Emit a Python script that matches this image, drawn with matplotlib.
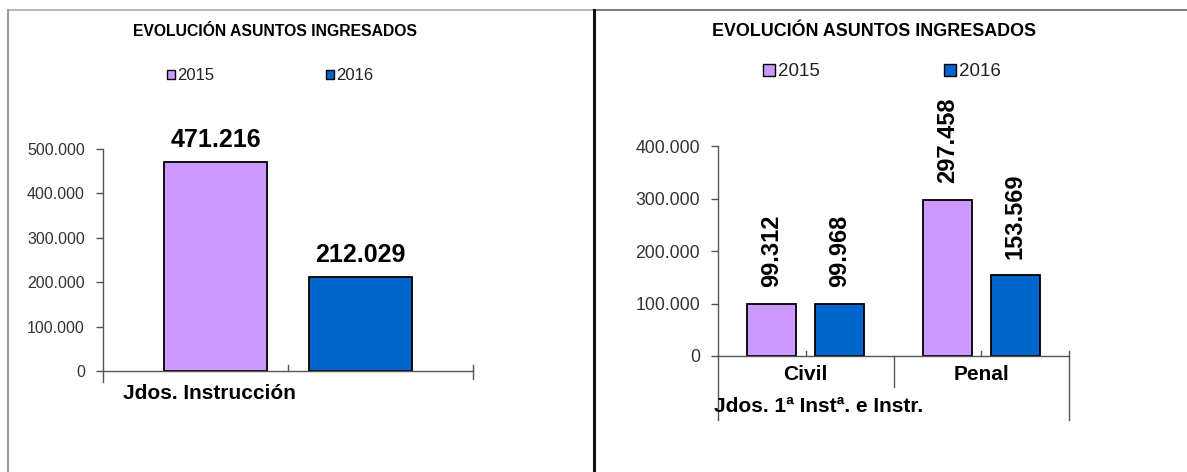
import matplotlib.pyplot as plt
from matplotlib.patches import Patch
from matplotlib.lines import Line2D
from matplotlib.ticker import FuncFormatter

plt.rcParams['font.family'] = ['Liberation Sans', 'DejaVu Sans']

# data
years = ["2015", "2016"]
colors = ["#CC99FF", "#0066CC"]

left_values = [471216, 212029]
left_label = "Jdos. Instrucción"

right_cats = ["Civil", "Penal"]
right_2015 = [99312, 297458]
right_2016 = [99968, 153569]
right_group = "Jdos. 1ª Instª. e Instr."

title = "EVOLUCIÓN ASUNTOS INGRESADOS"


def miles(v, pos=None):
    return f"{int(v):,}".replace(",", ".")


W, H = 1187, 472
fig = plt.figure(figsize=(W / 100, H / 100), dpi=100)

# frame lines of the two panels
fig.add_artist(Line2D([8 / W, 594 / W], [1 - 10 / H] * 2, color="#aaaaaa", lw=1.2))
fig.add_artist(Line2D([594 / W, 1], [1 - 10 / H] * 2, color="#666666", lw=1.2))
fig.add_artist(Line2D([8 / W] * 2, [0, 1 - 10 / H], color="#999999", lw=1.5))
fig.add_artist(Line2D([594 / W] * 2, [0, 1 - 10 / H], color="#111111", lw=2.2))

axis_col = "#555555"


def style_axes(ax, ymax, fs):
    for s in ["top", "right"]:
        ax.spines[s].set_visible(False)
    for s in ["left", "bottom"]:
        ax.spines[s].set_color(axis_col)
        ax.spines[s].set_linewidth(1.0)
    ax.set_ylim(0, ymax)
    ax.set_yticks(range(0, ymax + 1, 100000))
    ax.yaxis.set_major_formatter(FuncFormatter(miles))
    ax.tick_params(axis="y", direction="out", length=5, width=1, color=axis_col,
                   labelsize=fs, labelcolor="#333333", pad=8)
    ax.set_xlim(0, 2)
    ax.set_xticks([])


def vline(ax, x, y0, y1):
    ax.plot([x, x], [y0, y1], color=axis_col, lw=1.0, clip_on=False,
            transform=ax.get_xaxis_transform())


# ---- left panel ----
axL = fig.add_axes([103 / W, (H - 371) / H, 370 / W, 222 / H])
style_axes(axL, 500000, 11.5)
centre, off, bw = 1.0, 0.39, 0.557
for i, (v, c) in enumerate(zip(left_values, colors)):
    x = centre + (2 * i - 1) * off
    axL.bar(x, v, width=bw, color=c, edgecolor="black", linewidth=1.3)
    axL.annotate(miles(v), (x, v), xytext=(0, 11), textcoords="offset points",
                 ha="center", va="baseline", fontsize=18, fontweight="bold")
vline(axL, 0, 0, -0.05)
vline(axL, 1, 0, 0.027)
vline(axL, 2, 0.027, -0.036)
axL.annotate(left_label, (0.573, 0), xycoords=("data", "axes fraction"),
             xytext=(0, -16), textcoords="offset points", ha="center", va="center",
             fontsize=15, fontweight="bold")

fig.text(275 / W, 1 - 32 / H, title, ha="center", va="center",
         fontsize=11.3, fontweight="bold")
handles = [Patch(facecolor=c, edgecolor="black", linewidth=1) for c in colors]
fig.legend(handles, years, loc="center", bbox_to_anchor=(270 / W, 1 - 76 / H),
           ncol=2, frameon=False, fontsize=12, handlelength=0.48, handleheight=0.48,
           handletextpad=0.15, columnspacing=6.7, labelcolor="#222222")

# ---- right panel ----
axR = fig.add_axes([718 / W, (H - 356) / H, 351 / W, 210 / H])
style_axes(axR, 400000, 12.7)
off, bw = 0.193, 0.28
for j, (vals, c) in enumerate(zip([right_2015, right_2016], colors)):
    for i, v in enumerate(vals):
        x = i + 0.5 + (2 * j - 1) * off
        axR.bar(x, v, width=bw, color=c, edgecolor="black", linewidth=1.3)
        axR.annotate(miles(v), (x, v), xytext=(0, 12), textcoords="offset points",
                     ha="center", va="bottom", rotation=90, fontsize=17,
                     fontweight="bold")
vline(axR, 0, 0, -0.305)
vline(axR, 1, 0, -0.148)
vline(axR, 2, 0.024, -0.305)
vline(axR, 0.5, 0, 0.024)
vline(axR, 1.5, 0, 0.024)
for i, cat in enumerate(right_cats):
    axR.annotate(cat, (i + 0.5, 0), xycoords=("data", "axes fraction"),
                 xytext=(0, -13), textcoords="offset points", ha="center",
                 va="center", fontsize=15, fontweight="bold")
axR.annotate(right_group, (0, 0), xycoords=("data", "axes fraction"),
             xytext=(-3, -36), textcoords="offset points", ha="left", va="center",
             fontsize=15, fontweight="bold")

fig.text(874 / W, 1 - 32 / H, title, ha="center", va="center",
         fontsize=12.9, fontweight="bold")
fig.legend(handles, years, loc="center", bbox_to_anchor=(882 / W, 1 - 72 / H),
           ncol=2, frameon=False, fontsize=13.5, handlelength=0.64, handleheight=0.64,
           handletextpad=0.15, columnspacing=6.6, labelcolor="#222222")

fig.savefig("out.png", dpi=100, facecolor="white")
